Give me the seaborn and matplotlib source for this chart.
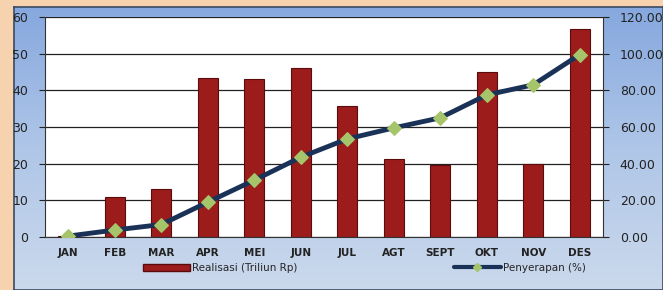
import numpy as np
import pandas as pd
import seaborn as sns
import matplotlib.pyplot as plt
from matplotlib.patches import Patch
from matplotlib.lines import Line2D
from matplotlib.colors import LinearSegmentedColormap

bulan = ['JAN', 'FEB', 'MAR', 'APR', 'MEI', 'JUN', 'JUL', 'AGT', 'SEPT', 'OKT', 'NOV', 'DES']
realisasi = [0.3, 11.0, 13.0, 43.3, 43.2, 46.0, 35.7, 21.3, 19.7, 45.0, 20.0, 56.7]
penyerapan = [0.5, 3.8, 6.8, 19.0, 31.0, 43.5, 53.5, 59.5, 65.0, 77.5, 83.0, 99.5]

data = pd.DataFrame({'bulan': bulan, 'realisasi': realisasi, 'penyerapan': penyerapan})

sns.set_style('white')
plt.rcParams['font.family'] = ['DejaVu Sans']

fig = plt.figure(figsize=(6.63, 2.9), dpi=100)
fig.patch.set_facecolor('#f6d2ae')

# blue gradient panel behind the chart
bg = fig.add_axes([14 / 663, 0, 1 - 14 / 663, 1 - 7 / 290])
grad = np.linspace(0, 1, 256).reshape(-1, 1)
cmap = LinearSegmentedColormap.from_list('panel', ['#86a8de', '#afc6e8', '#cbd9ec'])
bg.imshow(grad, aspect='auto', cmap=cmap, extent=[0, 1, 0, 1])
bg.set_xticks([])
bg.set_yticks([])
for s in bg.spines.values():
    s.set_color('#3a4a60')
    s.set_linewidth(1.2)

ax = fig.add_axes([45 / 663, 1 - 237 / 290, (603 - 45) / 663, (237 - 17) / 290])
ax.set_facecolor('white')
sns.barplot(data=data, x='bulan', y='realisasi', ax=ax, color='#9c1c1c',
            width=0.43, edgecolor='#5a0c0c', linewidth=0.8, saturation=1)
ax.set_ylim(0, 60)
ax.set_yticks(range(0, 61, 10))
ax.yaxis.grid(True, color='#222222', linewidth=0.9)
ax.set_axisbelow(True)
ax.set_xlim(-0.5, 11.5)
ax.set_xlabel('')
ax.set_ylabel('')
ax.tick_params(axis='y', length=4, labelsize=9, colors='#222222', pad=8)
ax.tick_params(axis='x', length=0, labelsize=7.5, colors='#222222', pad=8)
for lbl in ax.get_xticklabels():
    lbl.set_fontweight('bold')
for s in ['top', 'right']:
    ax.spines[s].set_visible(False)
ax.spines['left'].set_color('#333333')
ax.spines['bottom'].set_color('#333333')
# minor ticks between categories
ax.set_xticks(np.arange(-0.5, 12, 1), minor=True)
ax.tick_params(axis='x', which='minor', length=3, direction='in', color='#555555')

ax2 = ax.twinx()
sns.lineplot(x=np.arange(12), y=data['penyerapan'], ax=ax2, color='#1b3258',
             linewidth=3.5, marker='D', markersize=7, markerfacecolor='#a6c46a',
             markeredgecolor='#a6c46a')
ax2.set_ylim(0, 120)
ax2.set_yticks(range(0, 121, 20))
ax2.set_yticklabels([f'{v:.2f}' for v in range(0, 121, 20)])
ax2.set_ylabel('')
ax2.tick_params(axis='y', length=4, labelsize=9, colors='#222222', pad=8)
for s in ['top', 'left', 'bottom']:
    ax2.spines[s].set_visible(False)
ax2.spines['right'].set_color('#333333')

handles = [Patch(facecolor='#9c1c1c', edgecolor='#5a0c0c'),
           Line2D([0], [0], color='#1b3258', linewidth=3, marker='D', markersize=4,
                  markerfacecolor='#a6c46a', markeredgecolor='#a6c46a')]
fig.legend(handles, ['Realisasi (Triliun Rp)', 'Penyerapan (%)'], loc='center',
           bbox_to_anchor=(0.55, 1 - 268 / 290), ncol=2, frameon=False,
           fontsize=7.5, columnspacing=15, handlelength=4.5, handletextpad=0.2)

fig.savefig('out.png', dpi=100)
